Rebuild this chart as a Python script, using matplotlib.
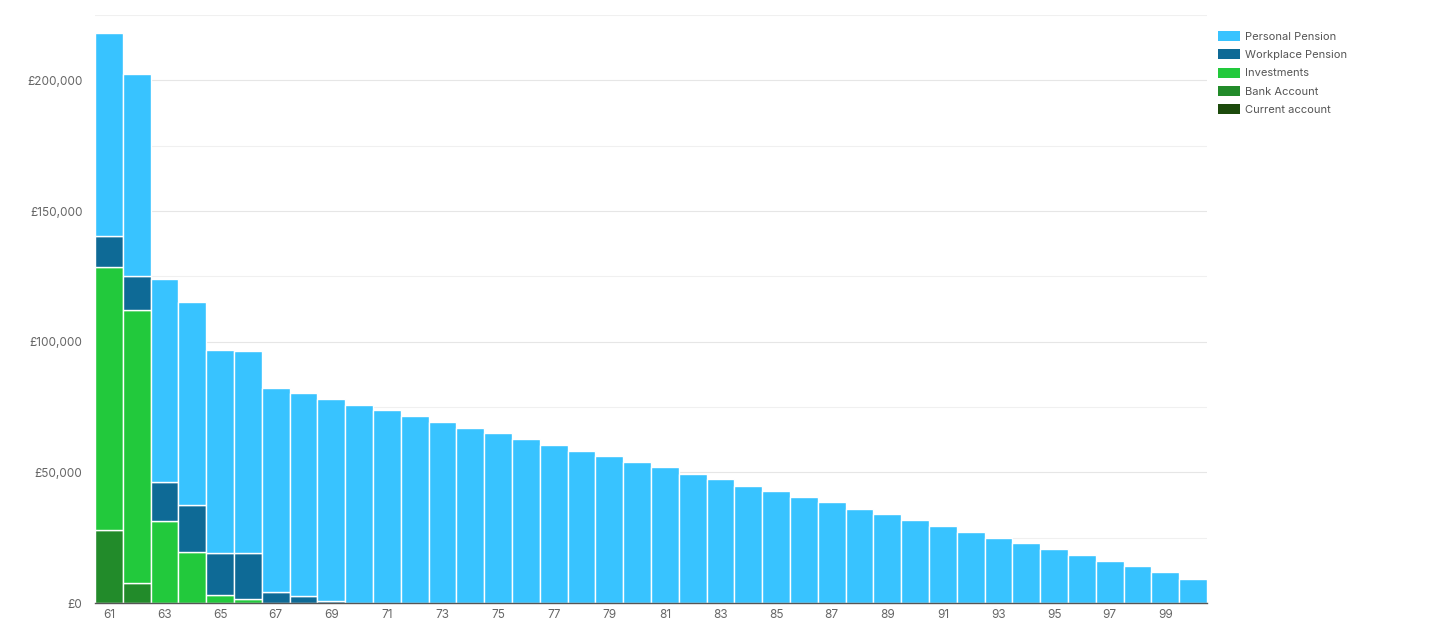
import matplotlib
matplotlib.use("Agg")
import matplotlib.pyplot as plt
from matplotlib.patches import Patch
from matplotlib.ticker import FuncFormatter, MultipleLocator
import numpy as np

plt.rcParams['font.family'] = ['Inter', 'DejaVu Sans']

ages = list(range(61, 101))
series_names = ["Personal Pension", "Workplace Pension", "Investments", "Bank Account", "Current account"]
colors = ["#38c3ff", "#0e6a96", "#22c93c", "#228b2a", "#1c4a0c"]

# Totals (top of each stacked bar), in £
totals = [218200, 202500, 124000, 115000, 96800, 96400, 82300, 80200, 78100, 75900,
          73800, 71400, 69300, 67000, 65000, 62600, 60400, 58200, 56200, 54100,
          52200, 49400, 47400, 44800, 42800, 40600, 38500, 36000, 34000, 31700,
          29600, 27200, 25000, 22800, 20800, 18300, 16200, 14000, 11700, 9300]
current_account = [0] * 40
bank_account = [28000, 7500] + [0] * 38
investments = [100400, 104500, 31300, 19400, 3200, 1600] + [0] * 34
workplace_pension = [12100, 13000, 15000, 18200, 16000, 17600, 4400, 2600, 700] + [0] * 31
personal_pension = [t - c - b - i - w for t, c, b, i, w in
                    zip(totals, current_account, bank_account, investments, workplace_pension)]

stack = [current_account, bank_account, investments, workplace_pension, personal_pension]
stack_colors = [colors[4], colors[3], colors[2], colors[1], colors[0]]

fig = plt.figure(figsize=(14.30, 6.36), dpi=100)
ax = fig.add_axes([95/1430, 1 - 603/636, (1207-95)/1430, (603-15)/636])

bottom = np.zeros(len(ages))
for vals, col in zip(stack, stack_colors):
    v = np.array(vals, dtype=float)
    ax.bar(ages, v, bottom=bottom, width=1.0, color=col, edgecolor="white", linewidth=1.0, zorder=3)
    bottom += v

ax.set_xlim(60.5, 100.5)
ax.set_ylim(0, 225000)
ax.yaxis.set_major_locator(MultipleLocator(50000))
ax.yaxis.set_minor_locator(MultipleLocator(25000))
ax.yaxis.set_major_formatter(FuncFormatter(lambda v, p: "£{:,.0f}".format(v)))
ax.grid(axis='y', which='major', color="#e6e6e6", linewidth=0.8, zorder=0)
ax.grid(axis='y', which='minor', color="#f0f0f0", linewidth=0.8, zorder=0)
ax.set_xticks(list(range(61, 101, 2)))
ax.tick_params(axis='both', which='both', length=0, labelsize=8.5, labelcolor="#666666")
ax.tick_params(axis='y', pad=9)
ax.tick_params(axis='x', pad=4)
for s in ["top", "right", "left"]:
    ax.spines[s].set_visible(False)
ax.spines["bottom"].set_color("#555555")
ax.spines["bottom"].set_linewidth(1.0)
ax.spines["bottom"].set_zorder(4)

handles = [Patch(facecolor=c, edgecolor="none") for c in colors]
fig.legend(handles, series_names, loc="upper left", bbox_to_anchor=(1218/1430, 1 - 31/636),
           frameon=False, fontsize=8, labelcolor="#555555", handlelength=2.0, handleheight=1.0,
           handletextpad=0.45, labelspacing=0.68, borderaxespad=0, borderpad=0)

fig.savefig("out.png", dpi=100)
